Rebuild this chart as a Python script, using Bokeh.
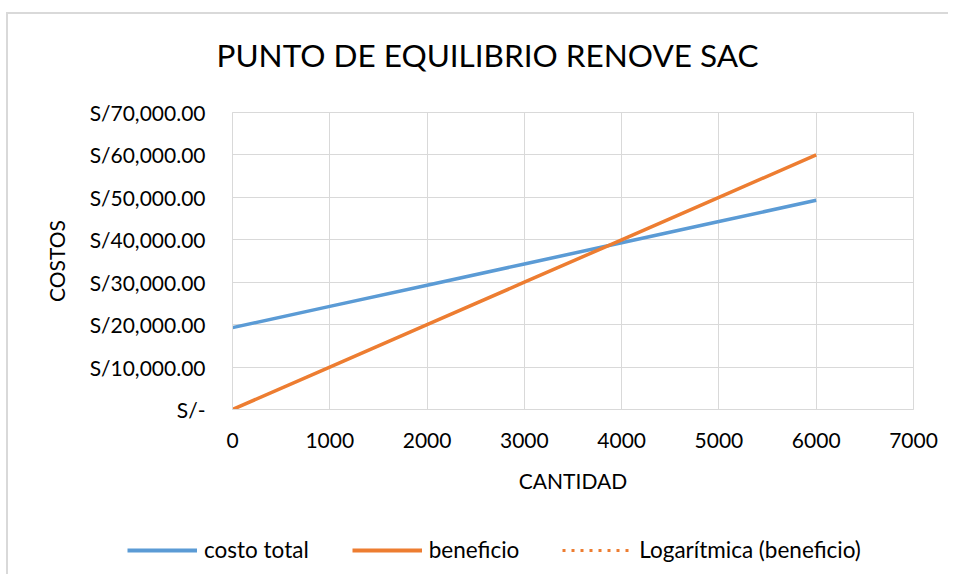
from bokeh.plotting import figure
from bokeh.models import FixedTicker, Legend, LegendItem, Title
from bokeh.layouts import column
from bokeh.embed import file_html
from bokeh.resources import INLINE

# ---- data ----
cantidad = [0, 1000, 2000, 3000, 4000, 5000, 6000]
costo_total = [19300, 24300, 29300, 34300, 39300, 44300, 49300]
beneficio = [0, 10000, 20000, 30000, 40000, 50000, 60000]

y_ticks = [0, 10000, 20000, 30000, 40000, 50000, 60000, 70000]
y_tick_labels = ["S/-", "S/10,000.00", "S/20,000.00", "S/30,000.00",
                 "S/40,000.00", "S/50,000.00", "S/60,000.00", "S/70,000.00"]
x_ticks = [0, 1000, 2000, 3000, 4000, 5000, 6000, 7000]
series_names = ["costo total", "beneficio", "Logarítmica (beneficio)"]
chart_title = "PUNTO DE EQUILIBRIO RENOVE SAC"

FONT = "Lato"
GRID = "#d9d9d9"
BLUE = "#5b9bd5"
ORANGE = "#ed7d31"

p = figure(width=940, height=500, output_backend="svg", toolbar_location=None,
           x_range=(0, 7000), y_range=(0, 70000),
           min_border_left=224, min_border_right=35, min_border_top=98, min_border_bottom=105)

# spacer between frame and title, then the title itself
spacer = Title(text=" ", text_font=FONT, text_font_size="10px", standoff=25)
main_title = Title(text=chart_title, text_font=FONT, text_font_size="31.5px",
                   text_font_style="normal", text_color="#000000",
                   align="left", offset=-16, standoff=0)
p.add_layout(spacer, "above")
p.add_layout(main_title, "above")

p.outline_line_color = GRID
p.background_fill_color = "white"
p.border_fill_color = "white"

for ax in (p.xaxis[0], p.yaxis[0]):
    ax.axis_line_color = GRID
    ax.major_tick_line_color = None
    ax.minor_tick_line_color = None
    ax.major_label_text_font = FONT
    ax.major_label_text_font_size = "21px"
    ax.major_label_text_color = "#000000"
    ax.axis_label_text_font = FONT
    ax.axis_label_text_font_size = "21px"
    ax.axis_label_text_font_style = "normal"
    ax.axis_label_text_color = "#000000"

p.xaxis.ticker = FixedTicker(ticks=x_ticks)
p.yaxis.ticker = FixedTicker(ticks=y_ticks)
p.yaxis.major_label_overrides = {t: l for t, l in zip(y_ticks, y_tick_labels)}
p.xaxis.axis_label = "CANTIDAD"
p.yaxis.axis_label = "COSTOS"
p.xaxis.major_label_standoff = 17
p.xaxis.axis_label_standoff = 17
p.yaxis.major_label_standoff = 21
p.yaxis.axis_label_standoff = 18

p.xgrid.grid_line_color = GRID
p.ygrid.grid_line_color = GRID
p.xgrid.ticker = FixedTicker(ticks=x_ticks)
p.ygrid.ticker = FixedTicker(ticks=y_ticks)

p.line(cantidad, costo_total, line_color=BLUE, line_width=3.5)
p.line(cantidad, beneficio, line_color=ORANGE, line_width=3.5)

# legend strip below the chart (its own renderers lie outside its visible range)
q = figure(width=940, height=60, output_backend="svg", toolbar_location=None,
           x_axis_type=None, y_axis_type=None, x_range=(-2, -1), y_range=(-2, -1),
           min_border=0)
q.frame_align = False
p.frame_align = False
q.outline_line_color = None
q.grid.visible = False
q.background_fill_color = "white"
q.border_fill_color = "white"
l1 = q.line(cantidad, costo_total, line_color=BLUE, line_width=4)
l2 = q.line(cantidad, beneficio, line_color=ORANGE, line_width=4)
l3 = q.line(cantidad, beneficio, line_color=ORANGE, line_width=3, line_dash="3 6")

legend = Legend(items=[LegendItem(label=series_names[0], renderers=[l1]),
                       LegendItem(label=series_names[1], renderers=[l2]),
                       LegendItem(label=series_names[2], renderers=[l3])],
                orientation="horizontal", location=(119, 11),
                glyph_width=70, label_standoff=7, spacing=43,
                padding=0, margin=0, border_line_color=None,
                background_fill_alpha=0,
                label_text_font=FONT, label_text_font_size="22.5px", label_text_color="#000000")
q.add_layout(legend, "center")

layout = column(p, q, spacing=0)
layout.margin = (12, 0, 0, 6)
layout.styles = {"border-left": "2px solid #d9d9d9", "border-top": "2px solid #d9d9d9"}

open("out.html", "w").write(file_html(layout, INLINE))
